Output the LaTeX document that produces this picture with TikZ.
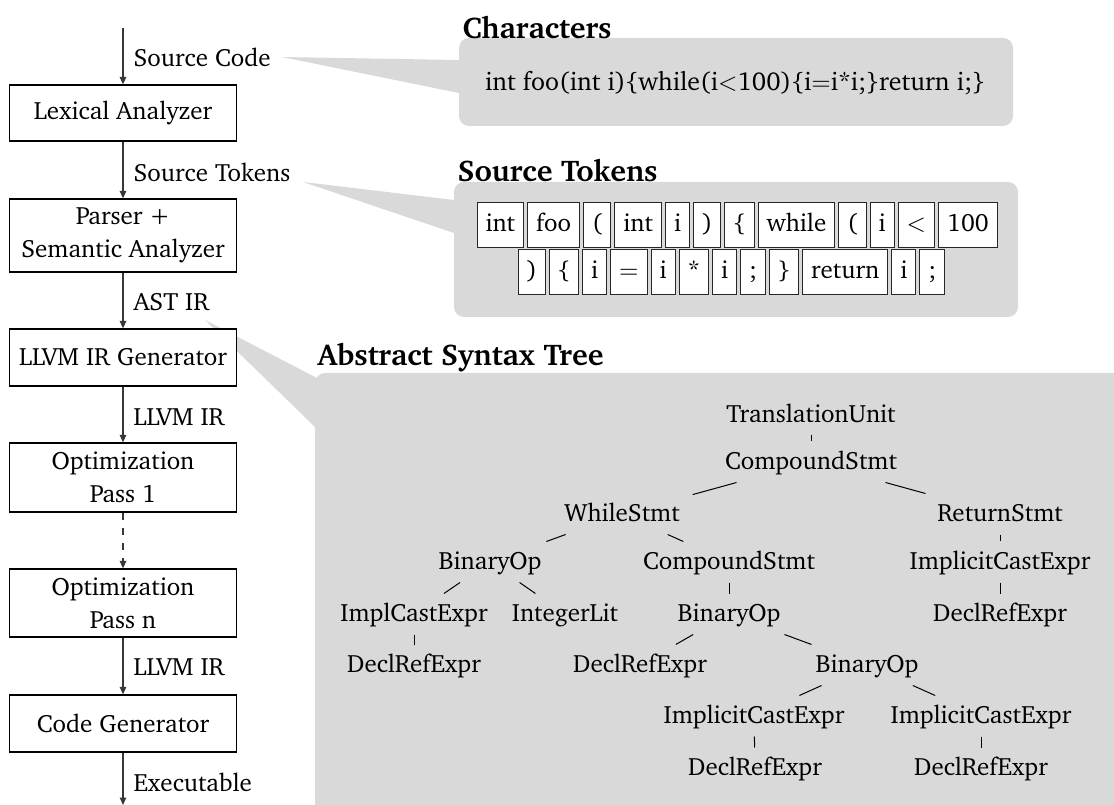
\documentclass[tikz,border=0pt]{standalone}
\usepackage[T1]{fontenc}
\usepackage{charter}
\usetikzlibrary{positioning,arrows.meta}

\definecolor{callout}{RGB}{217,217,217}
\definecolor{wire}{RGB}{55,55,55}

\tikzset{
  stage/.style={draw=black, line width=0.5pt, fill=white, minimum width=90.8pt,
    align=center, inner sep=0pt},
  flow/.style={draw=wire, line width=0.5pt, -{Triangle[length=3pt,width=2.6pt]}},
  flowlabel/.style={anchor=west, inner sep=0pt},
  panel/.style={fill=callout, rounded corners=4pt},
  title/.style={font=\fontsize{12}{14}\selectfont\bfseries, anchor=west, inner sep=0pt},
  tok/.style={draw=black!85, fill=white, line width=0.4pt, minimum height=18pt,
    inner xsep=3.4pt, inner ysep=0pt, text height=7pt, text depth=2pt, outer sep=0pt},
  astnode/.style={inner xsep=5pt, inner ysep=4pt, text height=7pt, text depth=1pt},
  branch/.style={draw=black, line width=0.4pt},
}

\begin{document}
\begin{tikzpicture}[x=0.4pt, y=-0.4pt, font=\fontsize{10}{13.2}\selectfont]
\useasboundingbox (0,0) rectangle (1114,805);
\clip (0,0) rectangle (1114,805);

% ---------------- call-out panels ----------------
\fill[callout] (282,57) -- (475,60.3) -- (475,96.3) -- cycle;
\fill[panel] (459,38) rectangle (1013,126);
\fill[callout] (303,182) -- (470,201.9) -- (470,238.4) -- cycle;
\fill[panel] (454,182) rectangle (1018,317);
\fill[callout] (205,320) -- (330,384.8) -- (330,441.6) -- cycle;
\fill[panel] (315,373) rectangle (1150,840);

\node[title] (tchars) at (462,27) {Characters};
\node[title] (ttoks) at (457,170) {Source Tokens};
\node[title] (tast) at (317,357) {Abstract Syntax Tree};

% ---------------- compiler pipeline ----------------
\coordinate (src) at (123,28);
\coordinate (exe) at (123,805);
\node[stage, minimum height=22.4pt] (lex)   at (123,113)   {Lexical Analyzer};
\node[stage, minimum height=29.2pt] (parse) at (123,235.5) {Parser +\\Semantic Analyzer};
\node[stage, minimum height=22.8pt] (irgen) at (123,357.5) {LLVM IR Generator};
\node[stage, minimum height=27.6pt] (opta)  at (123,477.5) {Optimization\\Pass 1};
\node[stage, minimum height=27.2pt] (optb)  at (123,603)   {Optimization\\Pass n};
\node[stage, minimum height=22.8pt] (cgen)  at (123,723.5) {Code Generator};

\draw[flow] (src) -- (lex);
\draw[flow] (lex) -- (parse);
\draw[flow] (parse) -- (irgen);
\draw[flow] (irgen) -- (opta);
\draw[flow, dashed] (opta) -- (optb);
\draw[flow] (optb) -- (cgen);
\draw[flow] (cgen) -- (exe);

\node[flowlabel] (lsrc)  at (133,57)  {Source Code};
\node[flowlabel] (ltok)  at (133,172) {Source Tokens};
\node[flowlabel] (last)  at (133,302) {AST IR};
\node[flowlabel] (lir1)  at (133,417) {LLVM IR};
\node[flowlabel] (lir2)  at (133,667) {LLVM IR};
\node[flowlabel] (lexe)  at (133,782) {Executable};

% ---------------- characters ----------------
\node[inner sep=0pt, font=\fontsize{10.35}{13.2}\selectfont] (chars) at (735,83)
  {int foo(int i)\{while(i$<$100)\{i$=$i*i;\}return i;\}};

% ---------------- token stream ----------------
\node[tok, anchor=west] (a1) at (477,225.5) {int};
\node[tok, right=1.6pt of a1]  (a2)  {foo};
\node[tok, right=1.6pt of a2]  (a3)  {(};
\node[tok, right=1.6pt of a3]  (a4)  {int};
\node[tok, right=1.6pt of a4]  (a5)  {i};
\node[tok, right=1.6pt of a5]  (a6)  {)};
\node[tok, right=1.6pt of a6]  (a7)  {\{};
\node[tok, right=1.6pt of a7]  (a8)  {while};
\node[tok, right=1.6pt of a8]  (a9)  {(};
\node[tok, right=1.6pt of a9]  (a10) {i};
\node[tok, right=1.6pt of a10] (a11) {$<$};
\node[tok, right=1.6pt of a11] (a12) {100};

\node[tok, anchor=west] (b1) at (518,272.5) {)};
\node[tok, right=1.6pt of b1]  (b2)  {\{};
\node[tok, right=1.6pt of b2]  (b3)  {i};
\node[tok, right=1.6pt of b3]  (b4)  {$=$};
\node[tok, right=1.6pt of b4]  (b5)  {i};
\node[tok, right=1.6pt of b5]  (b6)  {*};
\node[tok, right=1.6pt of b6]  (b7)  {i};
\node[tok, right=1.6pt of b7]  (b8)  {;};
\node[tok, right=1.6pt of b8]  (b9)  {\}};
\node[tok, right=1.6pt of b9]  (b10) {return};
\node[tok, right=1.6pt of b10] (b11) {i};
\node[tok, right=1.6pt of b11] (b12) {;};

% ---------------- abstract syntax tree ----------------
\node[astnode] (tu)   at (811,415)  {TranslationUnit};
\node[astnode] (cs)   at (811,462)  {CompoundStmt};
\node[astnode] (ws)   at (622,514)  {WhileStmt};
\node[astnode] (rs)   at (1000,514) {ReturnStmt};
\node[astnode] (bo)   at (490,562)  {BinaryOp};
\node[astnode] (csb)  at (729,562)  {CompoundStmt};
\node[astnode] (ice)  at (1000,562) {ImplicitCastExpr};
\node[astnode] (ic)   at (414,614)  {ImplCastExpr};
\node[astnode] (il)   at (565,614)  {IntegerLit};
\node[astnode] (bob)  at (729,614)  {BinaryOp};
\node[astnode] (dre)  at (1000,614) {DeclRefExpr};
\node[astnode] (dra)  at (414,665)  {DeclRefExpr};
\node[astnode] (drb)  at (640,665)  {DeclRefExpr};
\node[astnode] (boc)  at (867,665)  {BinaryOp};
\node[astnode] (icea) at (754,716)  {ImplicitCastExpr};
\node[astnode] (iceb) at (981,716)  {ImplicitCastExpr};
\node[astnode] (drc)  at (755,768)  {DeclRefExpr};
\node[astnode] (drd)  at (981,768)  {DeclRefExpr};

\draw[branch] (tu) -- (cs);
\draw[branch] (cs) -- (ws);
\draw[branch] (cs) -- (rs);
\draw[branch] (ws) -- (bo);
\draw[branch] (ws) -- (csb);
\draw[branch] (rs) -- (ice);
\draw[branch] (bo) -- (ic);
\draw[branch] (bo) -- (il);
\draw[branch] (csb) -- (bob);
\draw[branch] (ice) -- (dre);
\draw[branch] (ic) -- (dra);
\draw[branch] (bob) -- (drb);
\draw[branch] (bob) -- (boc);
\draw[branch] (boc) -- (icea);
\draw[branch] (boc) -- (iceb);
\draw[branch] (icea) -- (drc);
\draw[branch] (iceb) -- (drd);
\end{tikzpicture}
\end{document}
